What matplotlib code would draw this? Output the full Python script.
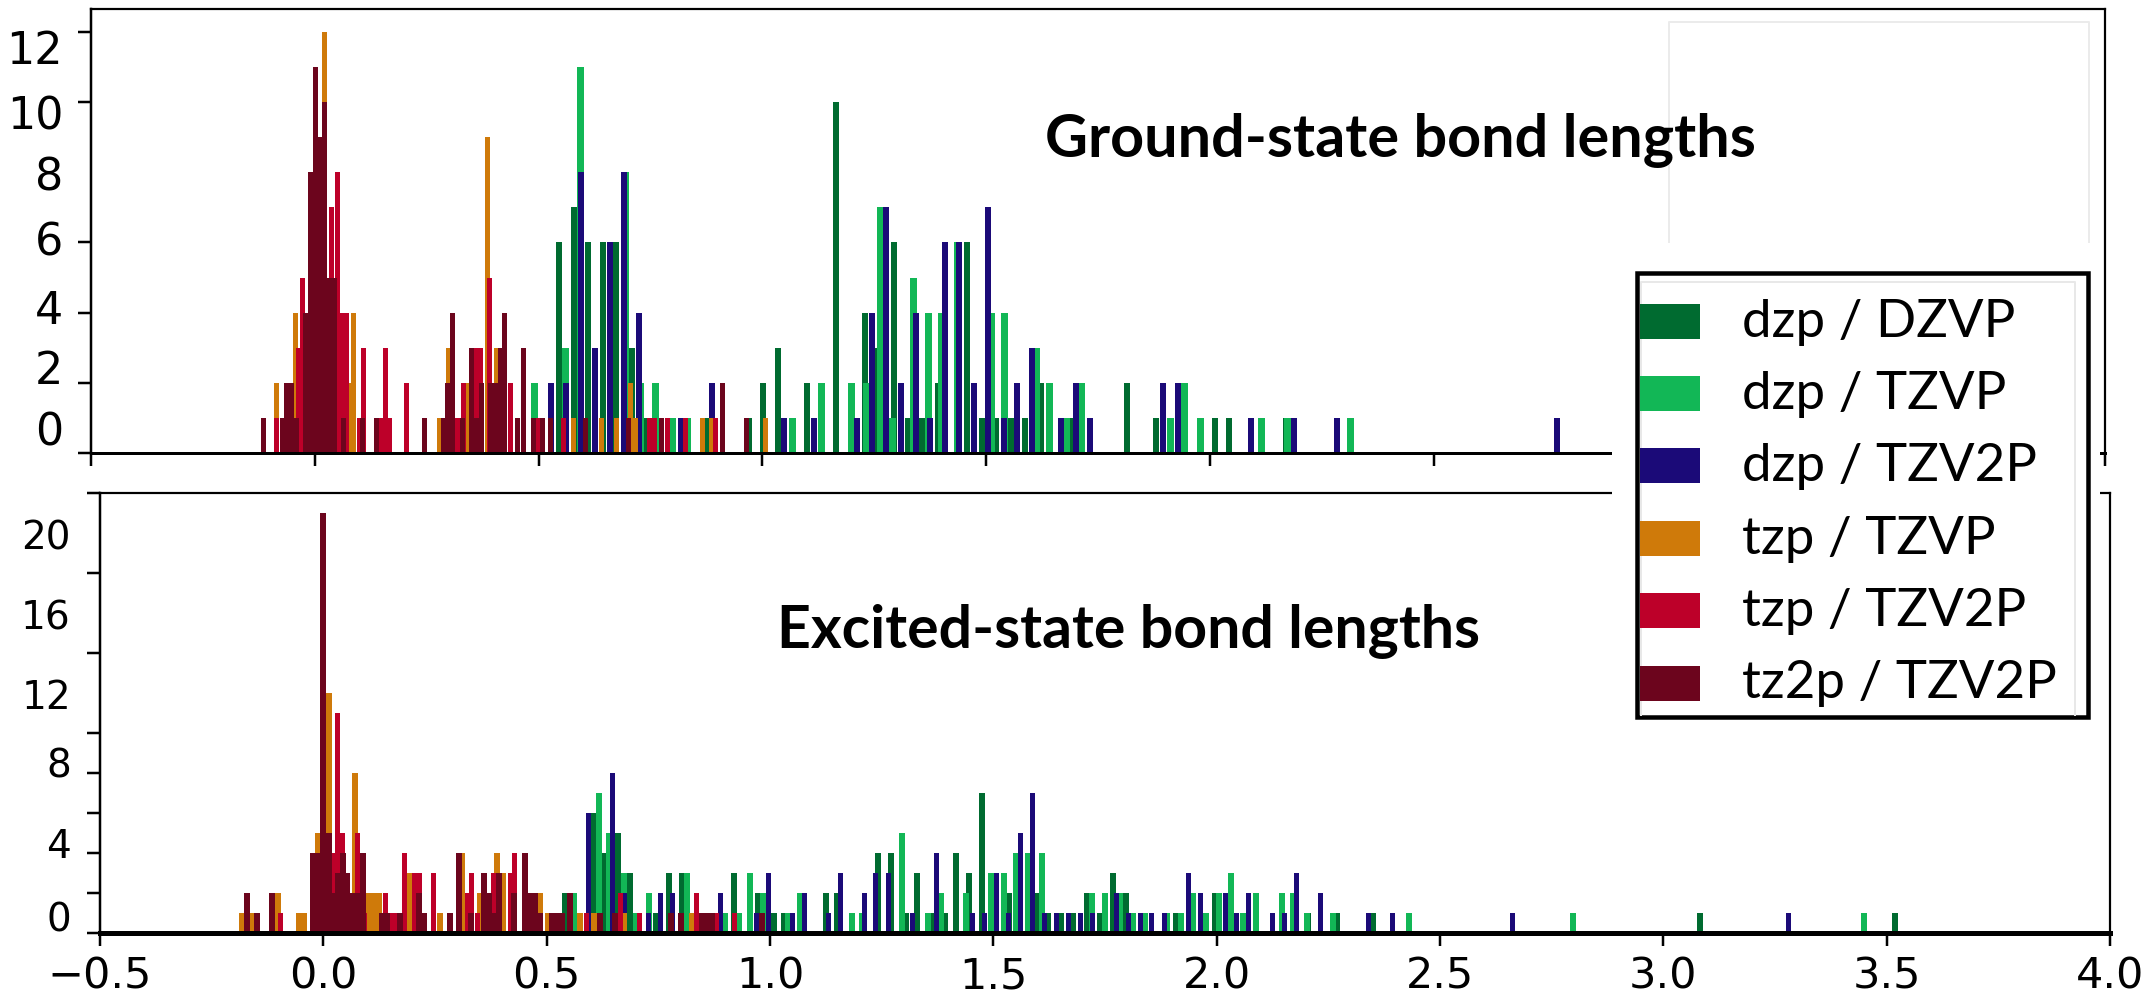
import matplotlib
matplotlib.use("Agg")
import matplotlib.pyplot as plt
from matplotlib.patches import Rectangle
from matplotlib.lines import Line2D

# ---------------- data (bin centre, count) ----------------
series_labels = ["dzp / DZVP", "dzp / TZVP", "dzp / TZV2P", "tzp / TZVP", "tzp / TZV2P", "tz2p / TZV2P"]
series_colors = ["#006b30", "#12b756", "#1b0a78", "#cf7a0a", "#bd0029", "#6c051d"]

# Ground-state bond lengths
gs_dzvp_x = [0.546, 0.580, 0.611, 0.645, 0.674, 0.709, 0.740, 0.874, 0.970, 1.001, 1.035, 1.100,
             1.165, 1.230, 1.255, 1.294, 1.326, 1.357, 1.393, 1.458, 1.491, 1.521, 1.556, 1.588,
             1.622, 1.693, 1.815, 1.880, 2.011, 2.042, 2.170]
gs_dzvp_n = [6, 7, 6, 6, 6, 3, 1, 1, 1, 2, 3, 2,
             10, 4, 3, 6, 1, 1, 2, 6, 1, 1, 1, 1,
             2, 1, 2, 1, 1, 1, 1]
gs_tzvp_x = [0.491, 0.561, 0.594, 0.694, 0.727, 0.761, 0.799, 0.832, 0.893, 1.067, 1.133, 1.200,
             1.232, 1.265, 1.290, 1.338, 1.371, 1.400, 1.437, 1.512, 1.540, 1.613, 1.642, 1.679,
             1.713, 1.912, 1.944, 1.979, 2.115, 2.174, 2.315]
gs_tzvp_n = [2, 3, 11, 8, 2, 2, 1, 1, 1, 1, 2, 2,
             2, 7, 1, 5, 4, 4, 6, 4, 4, 3, 2, 1,
             2, 1, 2, 1, 1, 1, 1]
gs_tzv2p_x = [0.528, 0.562, 0.595, 0.627, 0.660, 0.691, 0.724, 0.819, 0.887, 1.048, 1.115, 1.212,
              1.245, 1.276, 1.310, 1.344, 1.375, 1.408, 1.440, 1.473, 1.505, 1.539, 1.570, 1.603,
              1.668, 1.701, 1.733, 1.895, 1.929, 2.091, 2.187, 2.285, 2.775]
gs_tzv2p_n = [2, 2, 8, 3, 6, 8, 4, 1, 2, 1, 1, 1,
              4, 7, 2, 4, 1, 6, 6, 2, 7, 1, 2, 3,
              1, 2, 1, 2, 2, 1, 1, 1, 1]
gs_tzp_tzvp_x = [-0.085, -0.043, 0.022, 0.078, 0.087, 0.278, 0.298, 0.342, 0.386, 0.406, 0.579,
                 0.641, 0.675, 0.705, 0.716, 0.866, 0.887, 1.006]
gs_tzp_tzvp_n = [2, 4, 12, 2, 4, 1, 3, 2, 9, 3, 1,
                 1, 1, 2, 1, 1, 1, 1]
gs_tzp_tzv2p_x = [-0.085, -0.036, -0.027, 0.037, 0.051, 0.061, 0.071, 0.099, 0.109, 0.148, 0.158,
                  0.168, 0.205, 0.319, 0.333, 0.361, 0.371, 0.391, 0.438, 0.499, 0.556, 0.749,
                  0.759, 0.788, 0.828, 0.895]
gs_tzp_tzv2p_n = [1, 3, 5, 7, 8, 4, 4, 1, 3, 1, 3,
                  1, 2, 1, 2, 3, 3, 5, 2, 1, 1, 1,
                  1, 1, 1, 1]
gs_tz2p_x = [-0.114, -0.073, -0.063, -0.052, -0.041, -0.020, -0.009, 0.002, 0.012, 0.022, 0.033,
             0.044, 0.064, 0.107, 0.138, 0.246, 0.287, 0.297, 0.308, 0.330, 0.351, 0.362, 0.373,
             0.393, 0.404, 0.415, 0.424, 0.453, 0.467, 0.489, 0.509, 0.526, 0.605, 0.701, 0.775,
             0.911, 0.965]
gs_tz2p_n = [1, 1, 2, 2, 1, 4, 8, 11, 9, 10, 5,
             5, 1, 1, 1, 1, 1, 2, 4, 1, 3, 1, 2,
             2, 2, 3, 4, 1, 3, 1, 1, 1, 1, 1, 1,
             2, 1]

# Excited-state bond lengths
es_dzvp_x = [0.540, 0.603, 0.630, 0.659, 0.687, 0.744, 0.774, 0.802, 0.919, 0.974, 1.008, 1.032,
             1.125, 1.150, 1.242, 1.271, 1.304, 1.329, 1.363, 1.391, 1.416, 1.446, 1.475, 1.535,
             1.595, 1.623, 1.651, 1.679, 1.709, 1.738, 1.768, 1.797, 1.910, 1.996, 2.059, 2.205,
             2.270, 2.351, 3.082, 3.518]
es_dzvp_n = [2, 6, 4, 5, 3, 1, 3, 3, 3, 2, 1, 1,
             2, 2, 4, 4, 1, 3, 1, 1, 4, 3, 7, 2,
             2, 1, 1, 1, 2, 1, 3, 2, 1, 2, 1, 1,
             1, 1, 1, 1]
es_tzvp_x = [0.562, 0.617, 0.640, 0.673, 0.699, 0.729, 0.814, 0.900, 0.931, 0.955, 0.984, 1.040,
             1.067, 1.184, 1.205, 1.296, 1.354, 1.383, 1.439, 1.495, 1.524, 1.551, 1.578, 1.609,
             1.721, 1.750, 1.784, 1.813, 1.840, 1.888, 1.920, 1.948, 1.976, 2.005, 2.032, 2.060,
             2.089, 2.146, 2.171, 2.202, 2.261, 2.430, 2.798, 3.449]
es_tzvp_n = [2, 7, 5, 3, 1, 2, 3, 1, 1, 3, 2, 1,
             2, 1, 1, 5, 1, 2, 2, 3, 3, 4, 4, 4,
             2, 2, 2, 1, 1, 1, 1, 2, 1, 2, 3, 1,
             2, 2, 2, 1, 1, 1, 1, 1]
es_tzv2p_x = [0.594, 0.647, 0.675, 0.728, 0.755, 0.782, 0.889, 0.970, 0.997, 1.050, 1.077, 1.131,
              1.158, 1.211, 1.237, 1.265, 1.319, 1.373, 1.453, 1.480, 1.507, 1.534, 1.561, 1.588,
              1.614, 1.641, 1.668, 1.695, 1.722, 1.776, 1.803, 1.829, 1.855, 1.883, 1.937, 1.964,
              2.019, 2.044, 2.071, 2.125, 2.152, 2.179, 2.232, 2.340, 2.393, 2.662, 3.280]
es_tzv2p_n = [6, 8, 2, 1, 2, 2, 2, 1, 3, 1, 2, 1,
              3, 2, 3, 3, 1, 4, 1, 1, 3, 1, 5, 7,
              1, 1, 1, 1, 1, 2, 1, 1, 1, 1, 3, 2,
              2, 1, 2, 1, 1, 3, 2, 1, 1, 1, 1]
es_tzp_tzvp_x = [-0.182, -0.160, -0.101, -0.055, -0.043, -0.013, 0.013, 0.071, 0.102, 0.114, 0.125,
                 0.194, 0.261, 0.284, 0.310, 0.351, 0.389, 0.403, 0.484, 0.502, 0.575, 0.606,
                 0.673, 0.825]
es_tzp_tzvp_n = [1, 1, 2, 1, 1, 5, 12, 8, 2, 2, 2,
                 3, 1, 1, 4, 2, 4, 3, 2, 1, 1, 1,
                 1, 1]
es_tzp_tzv2p_x = [-0.096, 0.022, 0.032, 0.043, 0.077, 0.092, 0.139, 0.153, 0.164, 0.182, 0.204,
                  0.215, 0.247, 0.322, 0.332, 0.345, 0.381, 0.418, 0.428, 0.487, 0.589, 0.665,
                  0.708, 0.835, 0.880, 0.920]
es_tzp_tzv2p_n = [1, 4, 11, 5, 5, 1, 2, 1, 1, 4, 3,
                  3, 3, 2, 3, 1, 3, 3, 4, 1, 1, 2,
                  1, 2, 1, 1]
es_tz2p_x = [-0.171, -0.148, -0.115, -0.024, -0.013, -0.001, 0.012, 0.022, 0.032, 0.043, 0.054,
             0.067, 0.079, 0.089, 0.132, 0.142, 0.172, 0.214, 0.225, 0.283, 0.304, 0.330, 0.360,
             0.371, 0.382, 0.394, 0.427, 0.452, 0.463, 0.474, 0.485, 0.513, 0.524, 0.535, 0.552,
             0.619, 0.653, 0.778, 0.801, 0.848, 0.859, 0.870, 0.982]
es_tz2p_n = [2, 1, 2, 4, 4, 21, 5, 2, 3, 4, 3,
             2, 2, 4, 1, 1, 1, 2, 1, 1, 4, 1, 3,
             2, 1, 3, 2, 4, 2, 2, 1, 1, 1, 1, 2,
             1, 1, 1, 1, 1, 1, 1, 1]

gs_series = [(gs_dzvp_x, gs_dzvp_n), (gs_tzvp_x, gs_tzvp_n), (gs_tzv2p_x, gs_tzv2p_n),
             (gs_tzp_tzvp_x, gs_tzp_tzvp_n), (gs_tzp_tzv2p_x, gs_tzp_tzv2p_n), (gs_tz2p_x, gs_tz2p_n)]
es_series = [(es_dzvp_x, es_dzvp_n), (es_tzvp_x, es_tzvp_n), (es_tzv2p_x, es_tzv2p_n),
             (es_tzp_tzvp_x, es_tzp_tzvp_n), (es_tzp_tzv2p_x, es_tzp_tzv2p_n), (es_tz2p_x, es_tz2p_n)]

gs_title = "Ground-state bond lengths"
es_title = "Excited-state bond lengths"
x_ticks = [-0.5, 0.0, 0.5, 1.0, 1.5, 2.0, 2.5, 3.0, 3.5, 4.0]
gs_ytick_labels = ["0", "2", "4", "6", "8", "10", "12"]
es_ytick_labels = ["0", "4", "8", "12", "16", "20"]

# ---------------- style / layout ----------------
W, H = 2146, 995
DPI = 100
PX = 72.0 / DPI  # points per pixel
gs_widths = [0.0134, 0.0156, 0.0134, 0.0112, 0.0112, 0.0112]
es_widths = [0.0134, 0.0134, 0.0112, 0.0134, 0.0112, 0.0134]
gs_label_pos = [0.74, 2.48, 4.19, 6.15, 8.0, 9.72, 11.6]
es_label_pos = [0.85, 4.55, 8.55, 12.0, 16.0, 20.0]
TITLE_FONT = ["Lato", "DejaVu Sans"]

fig = plt.figure(figsize=(W / DPI, H / DPI), dpi=DPI)
fig.patch.set_facecolor("white")


def fx(px):
    return px / W


def fy(py):
    return 1 - py / H


ax1 = fig.add_axes([fx(91), fy(454), fx(2105 - 91), (454 - 10) / H])
ax2 = fig.add_axes([fx(100), fy(934), fx(2110 - 100), (934 - 494) / H])

for ax, series, widths in ((ax1, gs_series, gs_widths), (ax2, es_series, es_widths)):
    for (xs, ns), col, w in zip(series, series_colors, widths):
        ax.bar(xs, ns, width=w, color=col, linewidth=0, align="center")
    ax.set_xlim(-0.5, 4.0)
    ax.set_xticks(x_ticks)
    ax.tick_params(axis="x", direction="out", length=13 * PX, width=2.5 * PX, color="black")
    ax.tick_params(axis="y", which="major", length=0)
    ax.tick_params(axis="y", which="minor", direction="out", length=13 * PX, width=2.5 * PX, color="black")

# top panel
ax1.set_ylim(0, 12.65)
ax1.set_xticklabels([])
ax1.set_yticks(list(range(0, 13, 2)), minor=True)
ax1.set_yticks(gs_label_pos)
ax1.set_yticklabels(gs_ytick_labels, fontsize=32)
ax1.tick_params(axis="y", which="major", pad=20)
for side, lw in (("left", 2.5), ("top", 2.2), ("right", 2.2), ("bottom", 3.0)):
    ax1.spines[side].set_linewidth(lw * PX)

# bottom panel
ax2.set_ylim(0, 22.0)
ax2.set_xticklabels(["\u22120.5" if t < 0 else f"{t:.1f}" for t in x_ticks], fontsize=31)
ax2.tick_params(axis="x", pad=6)
ax2.set_yticks(list(range(0, 23, 2)), minor=True)
ax2.set_yticks(es_label_pos)
ax2.set_yticklabels(es_ytick_labels, fontsize=28)
ax2.tick_params(axis="y", which="major", pad=21)
for side, lw in (("left", 2.5), ("top", 2.2), ("right", 2.2), ("bottom", 5.0)):
    ax2.spines[side].set_linewidth(lw * PX)

# titles
fig.text(fx(1045), fy(157), gs_title, fontsize=42.7, fontweight="bold", family=TITLE_FONT,
         ha="left", va="baseline", zorder=4)
fig.text(fx(777), fy(648), es_title, fontsize=42.5, fontweight="bold", family=TITLE_FONT,
         ha="left", va="baseline", zorder=4)

# faint grey box remnant in the upper right (behind the title text)
fig.add_artist(Line2D([fx(1669), fx(1669), fx(2089), fx(2089)], [fy(243), fy(23), fy(23), fy(243)],
                      transform=fig.transFigure, color="#ebebeb", linewidth=2 * PX, zorder=1))

# white strip hiding the spines behind the legend area
fig.add_artist(Rectangle((fx(1612), fy(500)), fx(2100 - 1612), (500 - 440) / H,
                         transform=fig.transFigure, facecolor="white", edgecolor="none", zorder=5))

# legend box
fig.add_artist(Rectangle((fx(1637), fy(718)), fx(2088 - 1637), (718 - 274) / H,
                         transform=fig.transFigure, facecolor="white", edgecolor="black",
                         linewidth=4.5 * PX, zorder=6))
fig.add_artist(Line2D([fx(1641), fx(1641), fx(2075), fx(2075)], [fy(716), fy(283), fy(283), fy(716)],
                      transform=fig.transFigure, color="#e8e8e8", linewidth=2 * PX, zorder=6))
row0, row_step = 322, 72.4
for i, (lab, col) in enumerate(zip(series_labels, series_colors)):
    cy = row0 + i * row_step
    fig.add_artist(Rectangle((fx(1640), fy(cy + 17.5)), fx(60), 35 / H,
                             transform=fig.transFigure, facecolor=col, edgecolor="none", zorder=7))
    fig.text(fx(1742), fy(cy), lab, fontsize=38, family=TITLE_FONT, ha="left", va="center",
             zorder=7)

fig.savefig("out.png", dpi=DPI, facecolor="white")
